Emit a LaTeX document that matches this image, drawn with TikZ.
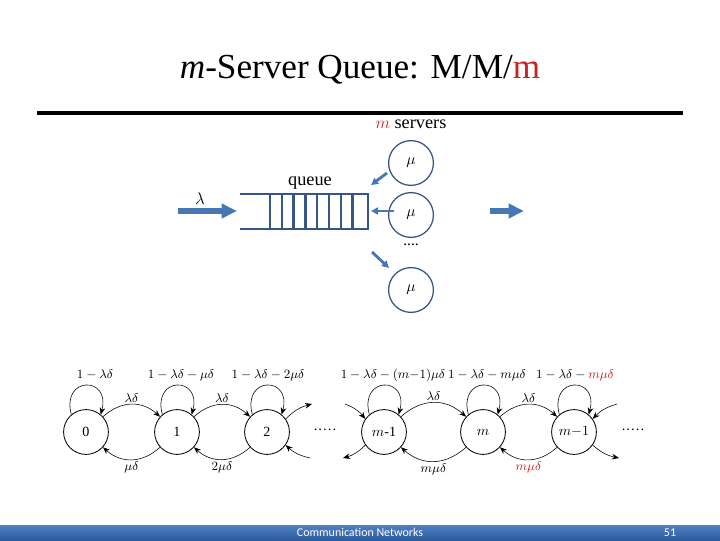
\documentclass[tikz,border=0pt]{standalone}
\usepackage{fontspec}
\setmainfont{Liberation Serif}
\newfontfamily\footfont{Carlito}
\usetikzlibrary{arrows.meta,positioning,calc}
\definecolor{qblue}{RGB}{55,85,135}
\definecolor{ablue}{RGB}{70,118,180}
\definecolor{mred}{RGB}{200,35,35}
\definecolor{bartop}{RGB}{78,128,196}
\definecolor{barbot}{RGB}{44,92,158}

\begin{document}
\begin{tikzpicture}[x=0.025cm,y=0.025cm,>={Stealth[length=5pt,width=4pt]},
  srv/.style={draw=qblue,circle,line width=0.9pt,minimum size=1.12cm,inner sep=0pt,
              font=\fontsize{11}{12}\selectfont},
  st/.style={draw,circle,semithick,minimum size=1.12cm,inner sep=0pt,font=\fontsize{10}{12}\selectfont},
  lbl/.style={font=\fontsize{9}{10}\selectfont,inner sep=1.5pt},
  fat/.style={ablue,line width=3.6pt,-{Triangle[length=11pt,width=10pt]}},
  slim/.style={ablue,line width=2pt,-{Triangle[length=5pt,width=5pt]}},
  qline/.style={qblue,line width=1.8pt},
  arc/.style={->,bend left=42,looseness=1.1}]

\useasboundingbox (0,0) rectangle (720,540);

%============================== title ==============================
\node[font=\fontsize{25}{30}\selectfont] (title) at (360,470)
  {\textit{m}-Server Queue: M/M/\textcolor{mred}{m}};
\draw[line width=2.2pt] (37,427) -- (683,427);

%============================== the queue ==============================
\node[font=\fontsize{13}{15}\selectfont] (msrv) at (411,416) {\textcolor{mred}{$m$} servers};
\node[srv] (sv1) at (411,377) {$\mu$};
\node[srv] (sv2) at (411,325) {$\mu$};
\node[font=\fontsize{11}{12}\selectfont] (vdots) at (411,295) {....};
\node[srv] (sv3) at (411,250) {$\mu$};

\draw[qline] (240,346) -- (368,346) -- (368,311) -- (240,311);
\foreach \i in {0,...,7}{\draw[qline] ({270+11.8*\i},346) -- ({270+11.8*\i},311);}
\node[font=\fontsize{13}{15}\selectfont] (qlab) at (310,357) {queue};

\coordinate (inA) at (178,329);
\coordinate (inB) at (237,329);
\node[font=\fontsize{12}{14}\selectfont] (lam) at (200,341) {$\lambda$};
\draw[fat] (inA) -- (inB);

\coordinate (outA) at (490,329);
\coordinate (outB) at (524,329);
\draw[fat] (outA) -- (outB);

\coordinate (a1) at (387,367);
\coordinate (b1) at (371,355);
\coordinate (a2) at (394,329);
\coordinate (b2) at (371,329);
\coordinate (a3) at (372,288);
\coordinate (b3) at (389,272);
\draw[slim] (a1) -- (b1);
\draw[slim] (a2) -- (b2);
\draw[slim] (a3) -- (b3);

%============================== the chain ==============================
\node[st] (s0) at (86,108) {0};
\node[st] (s1) at (177,108) {1};
\node[st] (s2) at (267,108) {2};
\node[lbl,font=\fontsize{10}{12}\selectfont] (dl) at (325,108) {·····};
\node[st] (sm1) at (384,108) {$m$-1};
\node[st] (sm) at (483,108) {$m$};
\node[st] (sm1b) at (574,108) {$m{-}1$};
\node[lbl,font=\fontsize{10}{12}\selectfont] (dr) at (633,108) {·····};

% self loops
\foreach \s in {s0,s1,s2,sm1,sm,sm1b}{
  \draw[->] (\s.130) to[out=105,in=75,looseness=3.5] (\s.50);}
\node[lbl] (l0) at (95,165) {$1-\lambda\delta$};
\node[lbl] (l1) at (181,165) {$1-\lambda\delta-\mu\delta$};
\node[lbl] (l2) at (268,165) {$1-\lambda\delta-2\mu\delta$};
\node[lbl] (l3) at (393,165) {$1-\lambda\delta-(m{-}1)\mu\delta$};
\node[lbl] (l4) at (487,165) {$1-\lambda\delta-m\mu\delta$};
\node[lbl] (l5) at (575,165) {$1-\lambda\delta-\textcolor{mred}{m\mu\delta}$};

% births and deaths
\draw[arc] (s0) to node[lbl,above] {$\lambda\delta$} (s1);
\draw[arc] (s1) to node[lbl,below] {$\mu\delta$} (s0);
\draw[arc] (s1) to node[lbl,above] {$\lambda\delta$} (s2);
\draw[arc] (s2) to node[lbl,below] {$2\mu\delta$} (s1);
\draw[arc] (sm1) to node[lbl,above] {$\lambda\delta$} (sm);
\draw[arc] (sm) to node[lbl,below] {$m\mu\delta$} (sm1);
\draw[arc] (sm) to node[lbl,above] {$\lambda\delta$} (sm1b);
\draw[arc] (sm1b) to node[lbl,below,text=mred] {$m\mu\delta$} (sm);

% loose ends
\coordinate (e2a) at (312,136);
\coordinate (e2b) at (310,82);
\coordinate (e3a) at (345,136);
\coordinate (e3b) at (343,82);
\coordinate (e6a) at (617,136);
\coordinate (e6b) at (619,82);
\draw[->] (s2.35) to[bend left=15] (e2a);
\draw[->] (e2b) to[bend left=15] (s2.-35);
\draw[->] (e3a) to[bend left=15] (sm1.145);
\draw[->] (sm1.-145) to[bend left=15] (e3b);
\draw[->] (e6a) to[bend right=15] (sm1b.35);
\draw[->] (sm1b.-35) to[bend right=15] (e6b);

%============================== footer ==============================
\shade[top color=bartop,bottom color=barbot] (0,0) rectangle (720,15);
\node[font=\footfont\fontsize{8.5}{10}\selectfont,text=white] (ftxt) at (360,7.5) {Communication Networks};
\node[font=\footfont\fontsize{8.5}{10}\selectfont,text=white] (fnum) at (670,7.5) {51};
\end{tikzpicture}
\end{document}
